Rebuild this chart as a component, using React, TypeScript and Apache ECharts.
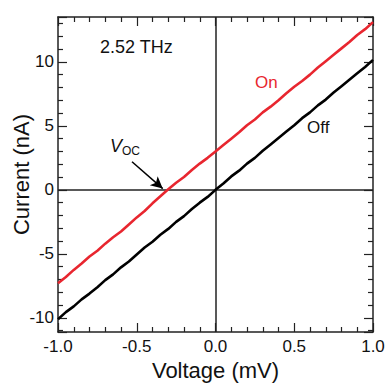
import React, { useEffect, useRef } from "react";
import * as echarts from "echarts";

const voltage = [
  -1.0, -0.95, -0.9, -0.85, -0.8, -0.75, -0.7, -0.65, -0.6, -0.55, -0.5, -0.45, -0.4, -0.35, -0.3, -0.25, -0.2,
  -0.15, -0.1, -0.05, 0.0, 0.05, 0.1, 0.15, 0.2, 0.25, 0.3, 0.35, 0.4, 0.45, 0.5, 0.55, 0.6, 0.65, 0.7, 0.75,
  0.8, 0.85, 0.9, 0.95, 1.0,
];
const currentOff = [
  -10.1, -9.55, -9.1, -8.55, -8.1, -7.6, -7.05, -6.6, -6.05, -5.6, -5.05, -4.5, -4.05, -3.5, -3.05, -2.5, -2.05,
  -1.5, -1.0, -0.55, 0.0, 0.5, 1.05, 1.5, 2.05, 2.5, 3.05, 3.55, 4.05, 4.55, 5.05, 5.6, 6.05, 6.6, 7.05, 7.6,
  8.1, 8.6, 9.1, 9.6, 10.15,
];
const currentOn = [
  -7.3, -6.8, -6.25, -5.75, -5.2, -4.75, -4.2, -3.7, -3.25, -2.7, -2.15, -1.65, -1.05, -0.5, 0.05, 0.55, 1.0,
  1.55, 2.05, 2.5, 3.0, 3.5, 4.0, 4.5, 5.05, 5.5, 6.05, 6.5, 7.0, 7.55, 8.05, 8.5, 9.0, 9.55, 10.05, 10.55,
  11.05, 11.55, 12.1, 12.55, 13.1,
];
const xRange = [-1.0, 1.0];
const xInterval = 0.5;
const yRange = [-11.1, 13.5];
const arrowFrom = [-0.53, 2.2];
const arrowTo = [-0.335, 0.1];

const FONT = "Liberation Sans, Arial, sans-serif";
const AXC = "#222";

export default function App() {
  const ref = useRef<HTMLDivElement>(null);
  useEffect(() => {
    const chart = echarts.init(ref.current!, null, { renderer: "svg" });
    const pairs = (ys: number[]) => voltage.map((v, i) => [v, ys[i]]);
    const common = {
      type: "value",
      splitLine: { show: false },
      axisLine: { show: true, onZero: false, lineStyle: { color: AXC, width: 1.5 } },
      axisTick: { show: true, inside: true, length: 9, lineStyle: { color: AXC, width: 1.2 } },
      minorTick: { show: true, splitNumber: 5, length: 5, lineStyle: { color: AXC, width: 1.2 } },
      minorSplitLine: { show: false },
    };
    const mkX = (pos: string, labels: boolean) => ({
      ...common,
      position: pos,
      min: xRange[0],
      max: xRange[1],
      interval: xInterval,
      axisLabel: labels
        ? { show: true, formatter: (v: number) => v.toFixed(1), color: "#111", fontSize: 17, fontFamily: FONT, margin: 6 }
        : { show: false },
      name: labels ? "Voltage (mV)" : "",
      nameLocation: "middle",
      nameGap: 27,
      nameMoveOverlap: false,
      nameTextStyle: { fontSize: 22, color: "#111", fontFamily: FONT },
    });
    const mkY = (pos: string, labels: boolean) => ({
      ...common,
      position: pos,
      min: yRange[0],
      max: yRange[1],
      axisLabel: labels
        ? { show: true, showMinLabel: false, showMaxLabel: false, color: "#111", fontSize: 17, fontFamily: FONT, margin: 4 }
        : { show: false },
      name: labels ? "Current (nA)" : "",
      nameLocation: "middle",
      nameGap: 26,
      nameMoveOverlap: false,
      nameTextStyle: { fontSize: 22, color: "#111", fontFamily: FONT },
    });
    chart.setOption({
      animation: false,
      backgroundColor: "#fff",
      grid: { left: 58, right: 12, top: 17, bottom: 51, containLabel: false, outerBoundsMode: "none" },
      xAxis: [mkX("bottom", true), mkX("top", false)],
      yAxis: [mkY("left", true), mkY("right", false)],
      series: [
        {
          name: "Off",
          type: "line",
          data: pairs(currentOff),
          showSymbol: false,
          lineStyle: { color: "#000", width: 2.6 },
          z: 3,
          markLine: {
            silent: true,
            symbol: "none",
            label: { show: false },
            lineStyle: { color: AXC, width: 1.5, type: "solid" },
            data: [{ xAxis: 0 }, { yAxis: 0 }],
            z: 1,
          },
        },
        {
          name: "On",
          type: "line",
          data: pairs(currentOn),
          showSymbol: false,
          lineStyle: { color: "#e8262f", width: 2.6 },
          z: 4,
          markLine: {
            silent: true,
            label: { show: false },
            symbolSize: [9, 12],
            lineStyle: { color: "#000", width: 1.5, type: "solid" },
            data: [[{ coord: arrowFrom, symbol: "none" }, { coord: arrowTo, symbol: "arrow" }]],
          },
        },
      ],
      graphic: [
        { type: "text", left: 100, top: 38, style: { text: "2.52 THz", fontSize: 18, fontFamily: FONT, fill: "#111" } },
        { type: "text", left: 255, top: 74, style: { text: "On", fontSize: 17, fontFamily: FONT, fill: "#e8262f" } },
        { type: "text", left: 307, top: 119, style: { text: "Off", fontSize: 17, fontFamily: FONT, fill: "#111" } },
        {
          type: "text",
          left: 110,
          top: 137,
          style: {
            text: "{v|V}{s|OC}",
            rich: {
              v: { fontSize: 18, fontStyle: "italic", fontFamily: FONT, fill: "#111" },
              s: { fontSize: 12, fontFamily: FONT, fill: "#111", padding: [9, 0, 0, 0] },
            },
          },
        },
      ],
    });
    return () => chart.dispose();
  }, []);
  return <div ref={ref} style={{ position: "fixed", left: 0, top: 0, width: 385, height: 383 }} />;
}
